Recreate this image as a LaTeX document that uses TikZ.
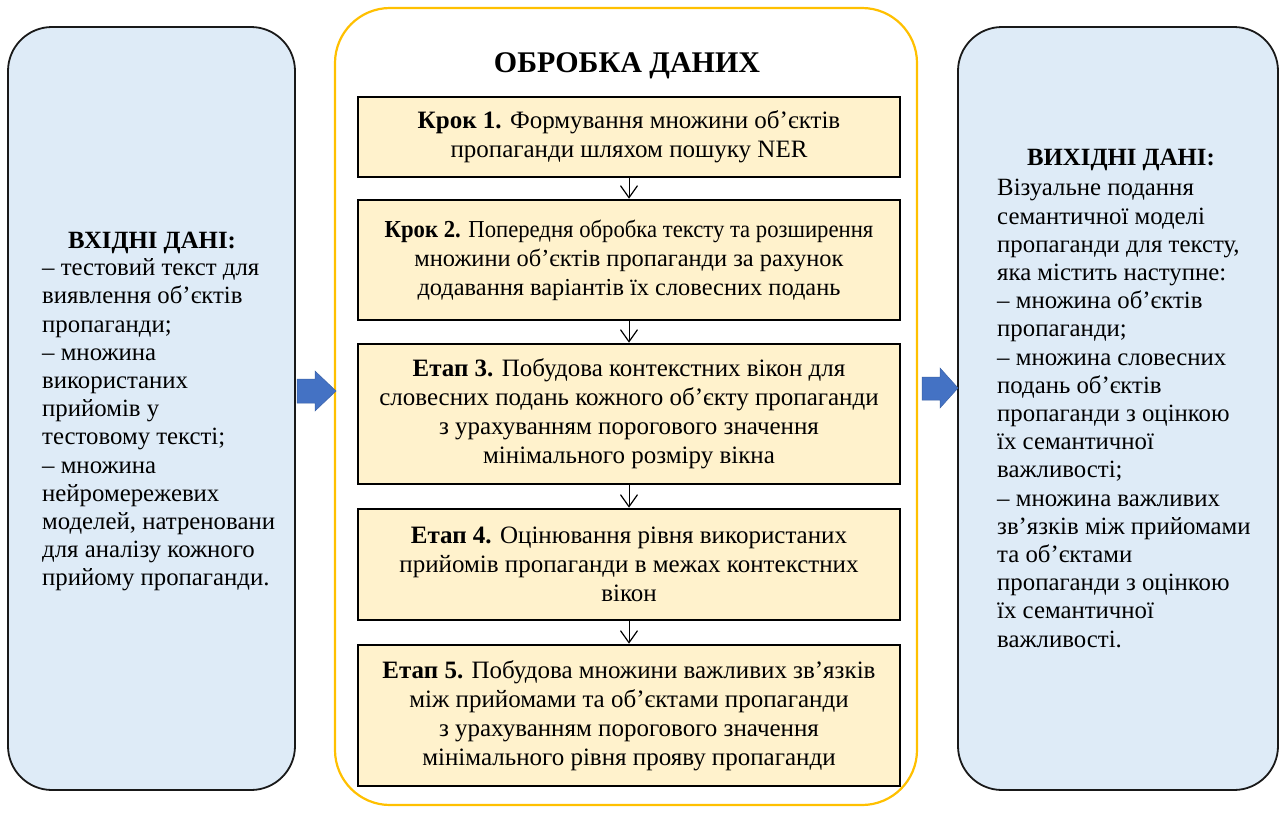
\documentclass[tikz,border=0pt]{standalone}
\usepackage{fontspec}
\usepackage{graphicx}
\setmainfont{Liberation Serif}
\usetikzlibrary{arrows.meta}
\definecolor{sideblue}{HTML}{DEEBF7}
\definecolor{stepfill}{HTML}{FFF2CC}
\definecolor{gold}{HTML}{FFC000}
\definecolor{arrowblue}{HTML}{4472C4}
\begin{document}
\begin{tikzpicture}[x=1pt,y=-1pt,
  sidebox/.style={draw=black!90,line width=1.8pt,fill=sideblue,rounded corners=44pt},
  outerbox/.style={draw=gold,line width=2.2pt,fill=white,rounded corners=55pt},
  stepbox/.style={draw=black,line width=2.6pt,fill=stepfill,minimum width=542pt,align=center,
     font=\fontsize{25}{29}\selectfont,inner sep=0pt},
  sidetext/.style={align=left,anchor=west,font=\fontsize{24.8}{28.2}\selectfont,inner sep=0pt},
  sidetitle/.style={font=\fontsize{24.8}{28}\selectfont\bfseries,inner sep=0pt},
  flow/.style={draw=black,line width=1pt,-{Straight Barb[length=12pt,width=17pt,line width=1.2pt]}},
  blockarrow/.style={fill=arrowblue,draw=arrowblue!85!black,line width=0.5pt,line join=miter}
]
\useasboundingbox (0,0) rectangle (1283,812);
\fill[white] (0,0) rectangle (1283,812);

% side boxes and outer box
\path[sidebox] (8,27) rectangle (295,790);
\path[sidebox] (958,27) rectangle (1278,790);
\path[outerbox] (335,8) rectangle (917,805);

% title
\node[inner sep=0pt,font=\fontsize{30}{32}\selectfont\bfseries] (title) at (627,66) {ОБРОБКА ДАНИХ};

% steps
\node[stepbox,minimum height=80pt] (s1) at (629,137)
  {\textbf{Крок 1.} Формування множини об’єктів\\пропаганди шляхом пошуку NER};
\node[stepbox,minimum height=120pt,font=\fontsize{24.4}{29}\selectfont] (s2) at (629,260)
  {\scalebox{0.93}[1]{\textbf{Крок 2.} Попередня обробка тексту та розширення}\\множини об’єктів пропаганди за рахунок\\додавання варіантів їх словесних подань};
\node[stepbox,minimum height=140pt] (s3) at (629,414)
  {\textbf{Етап 3.} Побудова контекстних вікон для\\словесних подань кожного об’єкту пропаганди\\з урахуванням порогового значення\\мінімального розміру вікна};
\node[stepbox,minimum height=111pt] (s4) at (629,564.5)
  {\textbf{Етап 4.} Оцінювання рівня використаних\\прийомів пропаганди в межах контекстних\\вікон};
\node[stepbox,minimum height=141pt] (s5) at (629,715.5)
  {\textbf{Етап 5.} Побудова множини важливих зв’язків\\між прийомами та об’єктами пропаганди\\з урахуванням порогового значення\\мінімального рівня прояву пропаганди};

\draw[flow] (s1.south) -- (s2.north);
\draw[flow] (s2.south) -- (s3.north);
\draw[flow] (s3.south) -- (s4.north);
\draw[flow] (s4.south) -- (s5.north);

% left text
\node[sidetitle] (intitle) at (152,243) {ВХІДНІ ДАНІ:};
\node[sidetext] (intext) at (42,425)
  {– тестовий текст для\\
   виявлення об'єктів\\
   пропаганди;\\
   – множина\\
   використаних\\
   прийомів у\\
   тестовому тексті;\\
   – множина\\
   нейромережевих\\
   моделей, натреновани\\
   для аналізу кожного\\
   прийому пропаганди.};

% right text
\node[sidetitle] (outtitle) at (1121,160) {ВИХІДНІ ДАНІ:};
\node[sidetext] (outtext) at (997,413.5)
  {Візуальне подання\\
   семантичної моделі\\
   пропаганди для тексту,\\
   яка містить наступне:\\
   – множина об’єктів\\
   пропаганди;\\
   – множина словесних\\
   подань об’єктів\\
   пропаганди з оцінкою\\
   їх семантичної\\
   важливості;\\
   – множина важливих\\
   зв’язків між прийомами\\
   та об'єктами\\
   пропаганди з оцінкою\\
   їх семантичної\\
   важливості.};

% block arrows
\path[blockarrow] (297,379) -- (315,379) -- (315,371) -- (336,391) -- (315,411) -- (315,403) -- (297,403) -- cycle;
\path[blockarrow] (922,377) -- (940,377) -- (940,368) -- (958,388) -- (940,408) -- (940,400) -- (922,400) -- cycle;
\end{tikzpicture}
\end{document}
